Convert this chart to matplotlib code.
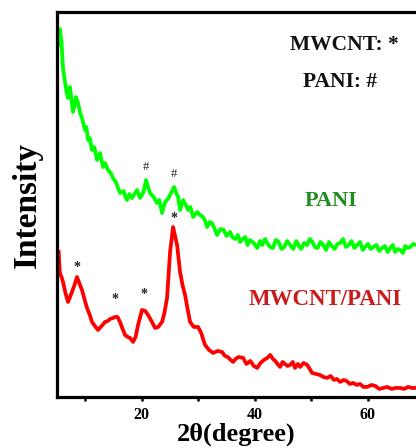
import matplotlib
matplotlib.use('Agg')
import matplotlib.pyplot as plt
from matplotlib.ticker import FixedLocator

plt.rcParams['font.family'] = ['Liberation Serif', 'DejaVu Serif']
plt.rcParams['font.weight'] = 'bold'

# PANI pattern (2theta in degrees, intensity in arbitrary units)
pani_2theta = [5.3, 5.5, 5.8, 6.06, 6.42, 6.7, 6.95, 7.3, 7.55, 7.83, 8.1, 8.36, 8.72,
               9.1, 9.42, 9.96, 10.2, 10.49, 10.8, 11.19, 11.6, 12.08, 12.61, 13.14,
               13.5, 14.03, 14.5, 14.91, 15.5, 15.8, 16.15, 16.8, 17.1, 17.39, 17.8,
               18.27, 18.7, 19.16, 19.69, 20.3, 20.75, 21.1, 21.46, 22.1, 22.7, 23.1,
               23.58, 24.12, 24.6, 25.0, 25.71, 26.1, 26.42, 26.77, 27.3, 27.7, 28.19,
               28.6, 29.07, 29.78, 30.3, 30.84, 31.2, 31.55, 32.0, 32.4, 32.9, 33.32,
               33.9, 34.5, 35.0, 35.62, 36.0, 36.5, 37.0, 37.39, 37.8, 38.3, 38.7,
               39.16, 39.8, 40.4, 40.9, 41.3, 41.8, 42.17, 42.7, 43.2, 43.7, 44.2,
               44.7, 45.2, 45.7, 46.24, 46.8, 47.3, 47.8, 48.2, 48.7, 49.25, 49.7,
               50.2, 50.6, 51.1, 51.6, 52.08, 52.6, 53.1, 53.6, 54.1, 54.6, 55.09,
               55.6, 56.1, 56.6, 57.1, 57.6, 58.1, 58.6, 59.1, 59.5, 60.0, 60.5,
               60.93, 61.5, 62.0, 62.5, 63.0, 63.5, 63.94, 64.4, 64.8, 65.3, 65.71,
               66.2, 66.6, 67.0, 67.48, 68.0, 68.54]
pani_int = [352, 368, 355, 329, 315, 305, 299, 310, 298, 285, 292, 300, 294,
            284, 279, 267, 270, 257, 259, 247, 250, 237, 244, 230,
            234, 227, 224, 219, 214, 209, 204, 206, 200, 197, 203,
            199, 203, 207, 199, 205, 217, 210, 204, 200, 194, 197,
            184, 195, 198, 202, 210, 204, 200, 187, 197, 193, 187,
            190, 180, 185, 182, 180, 176, 170, 175, 174, 168, 162,
            168, 167, 161, 165, 160, 158, 162, 155, 158, 160, 152,
            157, 154, 149, 156, 152, 158, 154, 150, 149, 157, 155,
            148, 150, 156, 152, 148, 156, 151, 148, 154, 152, 158,
            155, 150, 149, 155, 152, 147, 155, 151, 148, 153, 154,
            158, 150, 152, 156, 149, 152, 155, 147, 150, 153, 148,
            150, 152, 146, 149, 151, 145, 149, 152, 145, 148, 147,
            144, 151, 149, 150, 153, 152]

# MWCNT/PANI pattern
comp_2theta = [5.3, 5.5, 5.8, 6.06, 6.5, 6.95, 7.3, 7.65, 8.1, 8.54, 9.0, 9.42, 9.9,
               10.31, 10.8, 11.19, 11.7, 12.26, 12.9, 13.5, 14.0, 14.4, 14.9, 15.27,
               15.7, 16.15, 16.6, 17.04, 17.5, 17.92, 18.45, 18.9, 19.34, 20.04, 20.6,
               21.11, 21.7, 22.35, 22.9, 23.58, 24.0, 24.47, 25.0, 25.53, 26.24, 26.77,
               27.2, 27.65, 28.1, 28.54, 29.2, 29.96, 30.5, 31.19, 31.9, 32.61, 33.4,
               34.2, 34.7, 35.2, 35.7, 36.15, 36.6, 37.1, 37.92, 38.5, 39.2, 39.8,
               40.4, 41.0, 41.6, 42.2, 42.7, 43.2, 43.6, 44.0, 44.47, 44.9, 45.3,
               45.8, 46.24, 46.7, 47.1, 47.6, 48.01, 48.6, 49.25, 49.7, 50.13, 50.8,
               51.5, 52.1, 52.79, 53.4, 54.0, 54.5, 55.09, 55.7, 56.2, 56.8, 57.39,
               58.0, 58.6, 59.2, 59.87, 60.6, 61.3, 62.0, 62.7, 63.4, 64.2, 64.9,
               65.71, 66.4, 67.1, 67.8, 68.54]
comp_int = [145, 124, 120, 115, 104, 95, 100, 105, 112, 120, 113, 107, 97,
            89, 82, 75, 71, 67, 71, 75, 76, 78, 79, 80,
            80, 75, 68, 62, 60, 59, 55, 60, 72, 87, 86,
            82, 76, 69, 70, 75, 84, 99, 145, 170, 152, 125,
            112, 102, 88, 75, 70, 70, 64, 52, 47, 44, 46,
            45, 41, 40, 37, 35, 38, 40, 39, 33, 36, 31,
            29, 34, 37, 39, 42, 38, 36, 33, 30, 35, 33,
            31, 32, 35, 29, 33, 30, 34, 32, 28, 24, 23,
            22, 20, 19, 21, 17, 18, 15, 17, 16, 13, 14,
            12, 13, 10, 10, 12, 11, 8, 9, 10, 8, 9,
            9, 8, 10, 9, 9]

# peak markers
hash_pos = [20.75, 25.7]
hash_int = [230, 223]
star_pos = [8.54, 15.27, 20.4, 25.7]
star_int = [129, 97, 102, 179]

fig = plt.figure(figsize=(4.16, 4.48), dpi=100)
ax = fig.add_axes([0.137, 0.114, 0.863, 0.859])

ax.plot(pani_2theta, pani_int, color='#00ff00', linewidth=2.7)
ax.plot(comp_2theta, comp_int, color='#ff0000', linewidth=2.7)

for x, y in zip(hash_pos, hash_int):
    ax.text(x, y, '#', ha='center', va='center', fontsize=9, fontweight='normal', color='#222222')
for x, y in zip(star_pos, star_int):
    ax.text(x, y, '*', ha='center', va='center', fontsize=10, fontweight='bold', color='#222222')

ax.text(0.80, 0.914, 'MWCNT: *', transform=ax.transAxes, ha='center', va='center',
        fontsize=15.5, fontweight='bold', color='#111111')
ax.text(0.788, 0.818, 'PANI: #', transform=ax.transAxes, ha='center', va='center',
        fontsize=15.5, fontweight='bold', color='#111111')
ax.text(0.762, 0.51, 'PANI', transform=ax.transAxes, ha='center', va='center',
        fontsize=16, fontweight='bold', color='#1e8c1e')
ax.text(0.748, 0.252, 'MWCNT/PANI', transform=ax.transAxes, ha='center', va='center',
        fontsize=16.5, fontweight='bold', color='#cc1a1a')

ax.set_xlim(5, 68.5)
ax.set_ylim(0, 385)
ax.spines['right'].set_visible(False)
for s in ['left', 'bottom', 'top']:
    ax.spines[s].set_linewidth(2.3)

ax.xaxis.set_major_locator(FixedLocator([20, 40, 60]))
ax.xaxis.set_minor_locator(FixedLocator([10, 30, 50]))
ax.tick_params(axis='x', which='both', direction='out', length=3, width=1.8,
               labelsize=11.5, pad=4)
for lbl in ax.get_xticklabels():
    lbl.set_fontweight('bold')
ax.set_yticks([])
ax.set_xlabel('2θ(degree)', fontsize=19, fontweight='bold', labelpad=0)
ax.set_ylabel('Intensity', fontsize=24, fontweight='bold', labelpad=10)

fig.savefig('out.png', dpi=100)
